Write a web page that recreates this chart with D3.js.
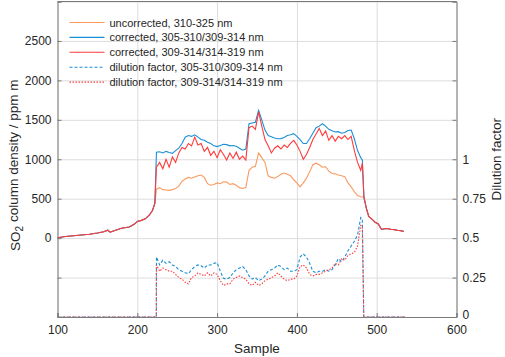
<!DOCTYPE html>
<html>
<head>
<meta charset="utf-8">
<script src="https://cdn.jsdelivr.net/npm/d3@7"></script>
<style>
  body { margin: 0; background: #fff; }
  svg { font-family: "Liberation Sans", Arial, sans-serif; }
</style>
</head>
<body>
<div id="chart"></div>
<script>
// Rampa antes de la pluma (las tres curvas coinciden)
var samplePre = [100, 110, 120, 130, 140, 150, 158, 163, 166, 170, 180, 190, 196, 200, 205, 210, 215, 219, 222];
var valuePre  = [5, 20, 30, 40, 50, 65, 80, 100, 75, 90, 125, 140, 175, 210, 225, 245, 290, 350, 440];

// Meseta
var samplePlateau = [224, 228, 232, 236, 240, 244, 248, 252, 256, 260, 264, 268, 272, 276, 280, 284, 288, 292, 296, 300,
  304, 308, 312, 316, 320, 324, 328, 332, 336, 340, 344, 348, 352, 356, 360, 364, 368, 372, 376, 380,
  384, 388, 392, 396, 400, 404, 408, 412, 416, 420, 424, 428, 432, 436, 440, 444, 448, 452, 456, 460,
  464, 468, 472, 476, 480, 482];

var uncorrected = [620, 640, 615, 610, 605, 615, 630, 660, 720, 750, 770, 760, 775, 790, 800, 770, 690, 670, 680, 700,
  690, 715, 710, 680, 690, 670, 640, 630, 640, 860, 900, 910, 1080, 1020, 960, 790, 770, 760, 780, 810,
  825, 810, 790, 740, 700, 650, 700, 760, 840, 930, 950, 930, 900, 905, 850, 820, 815, 800, 790, 780,
  700, 650, 590, 540, 525, 522];

var corrected1 = [1090, 1095, 1080, 1100, 1085, 1075, 1110, 1140, 1200, 1280, 1300, 1290, 1310, 1280, 1250, 1240, 1215, 1200, 1170, 1160,
  1175, 1190, 1185, 1170, 1175, 1165, 1140, 1115, 1130, 1450, 1460, 1470, 1620, 1500, 1370, 1300, 1285, 1270, 1260, 1262,
  1275, 1300, 1310, 1325, 1290, 1250, 1200, 1200, 1260, 1330, 1400, 1420, 1450, 1420, 1380, 1360, 1346, 1350, 1330, 1340,
  1365, 1370, 1260, 1110, 1020, 990];

var corrected2 = [900, 960, 880, 1000, 900, 1030, 960, 1080, 1150, 1130, 1200, 1170, 1280, 1180, 1200, 1100, 1150, 1050, 1100, 1020,
  1120, 1060, 990, 1080, 1010, 1090, 1000, 1040, 990, 1400, 1420, 1380, 1600, 1420, 1250, 1170, 1080, 1140, 1170, 1130,
  1180, 1150, 1200, 1240, 1180, 1100, 1000, 1060, 1150, 1250, 1320, 1390, 1300, 1360, 1240, 1300, 1230, 1290, 1260, 1300,
  1250, 1290, 1110, 960, 860, 950];

var dilution1 = [0.38, 0.33, 0.36, 0.34, 0.35, 0.33, 0.32, 0.30, 0.29, 0.28, 0.275, 0.30, 0.32, 0.33, 0.325, 0.31, 0.33, 0.33, 0.34, 0.345,
  0.29, 0.245, 0.24, 0.25, 0.28, 0.30, 0.31, 0.32, 0.30, 0.26, 0.24, 0.25, 0.23, 0.24, 0.26, 0.29, 0.30, 0.31, 0.33, 0.32,
  0.30, 0.31, 0.29, 0.29, 0.30, 0.38, 0.40, 0.38, 0.34, 0.29, 0.28, 0.29, 0.29, 0.30, 0.29, 0.30, 0.33, 0.37, 0.35, 0.38,
  0.42, 0.45, 0.48, 0.52, 0.63, 0.62];

var dilution2 = [0.33, 0.29, 0.31, 0.30, 0.29, 0.29, 0.27, 0.25, 0.24, 0.22, 0.21, 0.25, 0.26, 0.28, 0.27, 0.26, 0.28, 0.26, 0.28, 0.27,
  0.23, 0.20, 0.21, 0.21, 0.24, 0.25, 0.26, 0.25, 0.24, 0.21, 0.20, 0.22, 0.20, 0.21, 0.23, 0.24, 0.25, 0.26, 0.28, 0.26,
  0.24, 0.23, 0.24, 0.24, 0.26, 0.32, 0.33, 0.31, 0.27, 0.26, 0.27, 0.27, 0.28, 0.29, 0.30, 0.31, 0.34, 0.33, 0.37, 0.36,
  0.39, 0.40, 0.41, 0.45, 0.58, 0.57];

// Caída después de la pluma (las tres curvas coinciden)
var samplePost = [484, 487, 490, 494, 498, 502, 506, 510, 514, 518, 522, 526, 530, 534];
var valuePost  = [520, 380, 275, 240, 200, 180, 110, 120, 118, 112, 108, 100, 95, 85];

// Factor de dilución fuera de la pluma
var dilSampleStart = [100, 223.8];
var dilSampleEnd = [483.8, 535];
var dilOutside = [0, 0];

var xTicks = [100, 200, 300, 400, 500, 600];
var yLeftTicks = [-1000, -500, 0, 500, 1000, 1500, 2000, 2500, 3000];
var yLeftLabels = [0, 500, 1000, 1500, 2000, 2500];
var yRightTicks = [0, 0.25, 0.5, 0.75, 1, 1.25, 1.5, 1.75, 2];
var yRightLabels = [0, 0.25, 0.5, 0.75, 1];

var legendNames = ["uncorrected, 310-325 nm", "corrected, 305-310/309-314 nm", "corrected, 309-314/314-319 nm",
  "dilution factor, 305-310/309-314 nm", "dilution factor, 309-314/314-319 nm"];

var cOrange = "#fb9a5e", cBlue = "#1a8fd6", cRed = "#ff3b3b";

// Lienzo
var svgWidth = 505, svgHeight = 357;
var margin = {top: 1.5, right: 48.5, bottom: 40, left: 57.5};
var width = svgWidth - margin.left - margin.right;
var height = svgHeight - margin.top - margin.bottom;

var svg = d3.select("#chart").append("svg")
    .attr("width", svgWidth)
    .attr("height", svgHeight)
  .append("g")
    .attr("transform", "translate(" + margin.left + "," + margin.top + ")");

var x = d3.scaleLinear().domain([100, 600]).range([0, width]);
var yL = d3.scaleLinear().domain([-1000, 3000]).range([height, 0]);
var yR = d3.scaleLinear().domain([0, 2]).range([height, 0]);

// Rejilla
svg.append("g").attr("class", "grid")
    .attr("transform", "translate(0," + height + ")")
    .call(d3.axisBottom(x).tickValues(xTicks).tickSize(-height).tickFormat(""));
svg.append("g").attr("class", "grid")
    .call(d3.axisLeft(yL).tickValues(yLeftTicks).tickSize(-width).tickFormat(""));
svg.selectAll(".grid line").attr("stroke", "#dcdcdc").attr("stroke-width", 1);
svg.selectAll(".grid path").remove();

// Series completas
function join(a, b, c) { return a.concat(b, c); }
var samples = join(samplePre, samplePlateau, samplePost);
var seriesUnc = join(valuePre, uncorrected, valuePost);
var seriesC1 = join(valuePre, corrected1, valuePost);
var seriesC2 = join(valuePre, corrected2, valuePost);
var dilSamples = join(dilSampleStart, samplePlateau, dilSampleEnd);
var seriesD1 = join(dilOutside, dilution1, dilOutside);
var seriesD2 = join(dilOutside, dilution2, dilOutside);

var lineL = d3.line()
    .x(function(d, i) { return x(samples[i]); })
    .y(function(d) { return yL(d); });
var lineR = d3.line()
    .x(function(d, i) { return x(dilSamples[i]); })
    .y(function(d) { return yR(d); });

svg.append("path").datum(seriesUnc).attr("d", lineL)
    .attr("fill", "none").attr("stroke", cOrange).attr("stroke-width", 1.1);
svg.append("path").datum(seriesC1).attr("d", lineL)
    .attr("fill", "none").attr("stroke", cBlue).attr("stroke-width", 1.1);
svg.append("path").datum(seriesC2).attr("d", lineL)
    .attr("fill", "none").attr("stroke", cRed).attr("stroke-width", 1.1);
svg.append("path").datum(seriesD1).attr("d", lineR)
    .attr("fill", "none").attr("stroke", cBlue).attr("stroke-width", 1.1).attr("stroke-dasharray", "3,2");
svg.append("path").datum(seriesD2).attr("d", lineR)
    .attr("fill", "none").attr("stroke", cRed).attr("stroke-width", 1.1).attr("stroke-dasharray", "1.5,1.5");

// Ejes
var axisColor = "#7a7a7a";
var gx = svg.append("g").attr("class", "axis")
    .attr("transform", "translate(0," + height + ")")
    .call(d3.axisBottom(x).tickValues(xTicks).tickSize(-4).tickPadding(8).tickFormat(d3.format("d")));
var gl = svg.append("g").attr("class", "axis")
    .call(d3.axisLeft(yL).tickValues(yLeftTicks).tickSize(-4).tickPadding(6)
      .tickFormat(function(d) { return yLeftLabels.indexOf(d) >= 0 ? d : ""; }));
var gr = svg.append("g").attr("class", "axis")
    .attr("transform", "translate(" + width + ",0)")
    .call(d3.axisRight(yR).tickValues(yRightTicks).tickSize(-4).tickPadding(6)
      .tickFormat(function(d) { return yRightLabels.indexOf(d) >= 0 ? d : ""; }));
svg.append("line")
    .attr("x1", 0).attr("x2", width).attr("y1", 0).attr("y2", 0)
    .attr("stroke", axisColor);

svg.selectAll(".axis path").attr("stroke", axisColor);
svg.selectAll(".axis line").attr("stroke", axisColor);
svg.selectAll(".axis text").style("font-size", "12px").attr("fill", "#262626")
    .style("font-family", "'Liberation Sans', Arial, sans-serif");
gr.selectAll(".tick text").filter(function(d) { return d === 0; }).attr("dy", "0.1em");

// Títulos de ejes
svg.append("text")
    .attr("x", width / 2)
    .attr("y", height + 36)
    .attr("text-anchor", "middle")
    .style("font-size", "13.5px")
    .attr("fill", "#262626")
    .text("Sample");

var tL = svg.append("text")
    .attr("transform", "translate(" + (-38) + "," + (height / 2 + 6) + ") rotate(-90)")
    .attr("text-anchor", "middle")
    .style("font-size", "13.5px")
    .attr("fill", "#262626");
tL.append("tspan").text("SO");
tL.append("tspan").attr("dy", "0.35em").style("font-size", "10px").text("2");
tL.append("tspan").attr("dy", "-0.35em").text(" column density / ppm m");

svg.append("text")
    .attr("transform", "translate(" + (width + 44) + "," + (height / 2) + ") rotate(-90)")
    .attr("text-anchor", "middle")
    .style("font-size", "13.5px")
    .attr("fill", "#262626")
    .text("Dilution factor");

// Leyenda
var legendStyles = [
  {color: cOrange, dash: null},
  {color: cBlue, dash: null},
  {color: cRed, dash: null},
  {color: cBlue, dash: "3,2"},
  {color: cRed, dash: "1.5,1.5"}
];
var legend = svg.append("g").attr("transform", "translate(12,21)");
legendNames.forEach(function(name, i) {
  var row = legend.append("g").attr("transform", "translate(0," + (i * 14.9) + ")");
  row.append("line")
      .attr("x1", 0).attr("x2", 35).attr("y1", 0).attr("y2", 0)
      .attr("stroke", legendStyles[i].color)
      .attr("stroke-width", 1.1)
      .attr("stroke-dasharray", legendStyles[i].dash);
  row.append("text")
      .attr("x", 40).attr("y", 4)
      .style("font-size", "11px")
      .attr("fill", "#262626")
      .text(name);
});
</script>
</body>
</html>
